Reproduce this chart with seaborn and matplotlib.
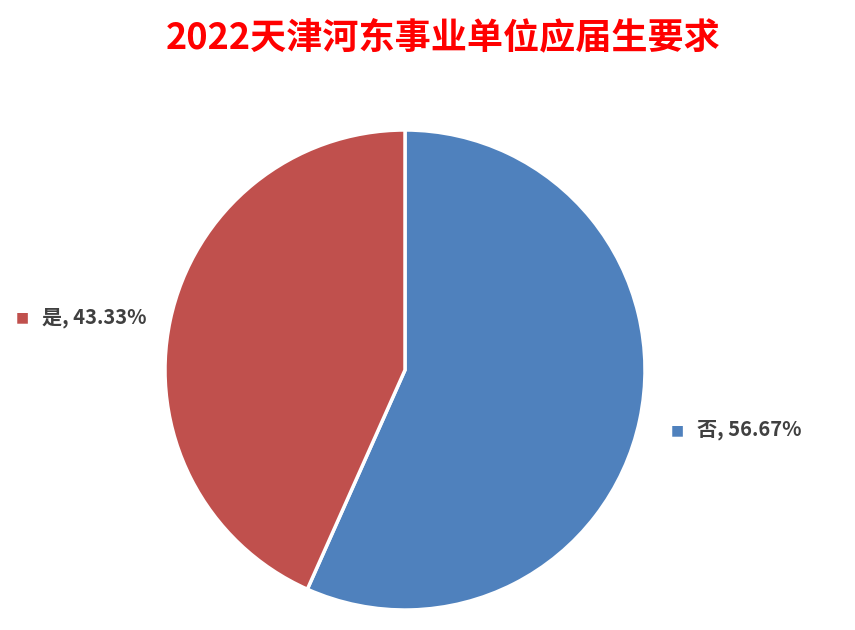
import matplotlib
matplotlib.use("Agg")
import matplotlib.pyplot as plt
import seaborn as sns

title = "2022天津河东事业单位应届生要求"
categories = ["否", "是"]
values = [56.67, 43.33]
colors = ["#4F81BD", "#C0504D"]

sns.set_theme(style="white")
plt.rcParams['font.family'] = ['Noto Sans CJK SC', 'DejaVu Sans']

W, H = 855, 630
fig = plt.figure(figsize=(W / 100, H / 100), dpi=100)
fig.patch.set_facecolor("white")

cx, cy, r = 405, 370, 240
ax = fig.add_axes([(cx - r) / W, (H - cy - r) / H, 2 * r / W, 2 * r / H])
ax.pie(values, colors=colors, startangle=90, counterclock=False, radius=1,
       wedgeprops=dict(edgecolor="white", linewidth=2.5))
ax.set_xlim(-1, 1)
ax.set_ylim(-1, 1)
ax.set_aspect("equal")
ax.axis("off")

label_pos = {"否": (697, 430), "是": (42, 317)}
for cat, val, col in zip(categories, values, colors):
    px, py = label_pos[cat]
    fig.text((px - 20) / W, (H - py) / H, "■", color=col, fontsize=10,
             ha="center", va="center", family=['DejaVu Sans'])
    fig.text(px / W, (H - py) / H, f"{cat}, {val:.2f}%", color="#404040",
             fontsize=14.5, fontweight="bold", ha="left", va="center")

fig.text(443 / W, (H - 38) / H, title, color="#FF0000", fontsize=26,
         fontweight="bold", ha="center", va="center")

fig.savefig("out.png", dpi=100, facecolor="white")
